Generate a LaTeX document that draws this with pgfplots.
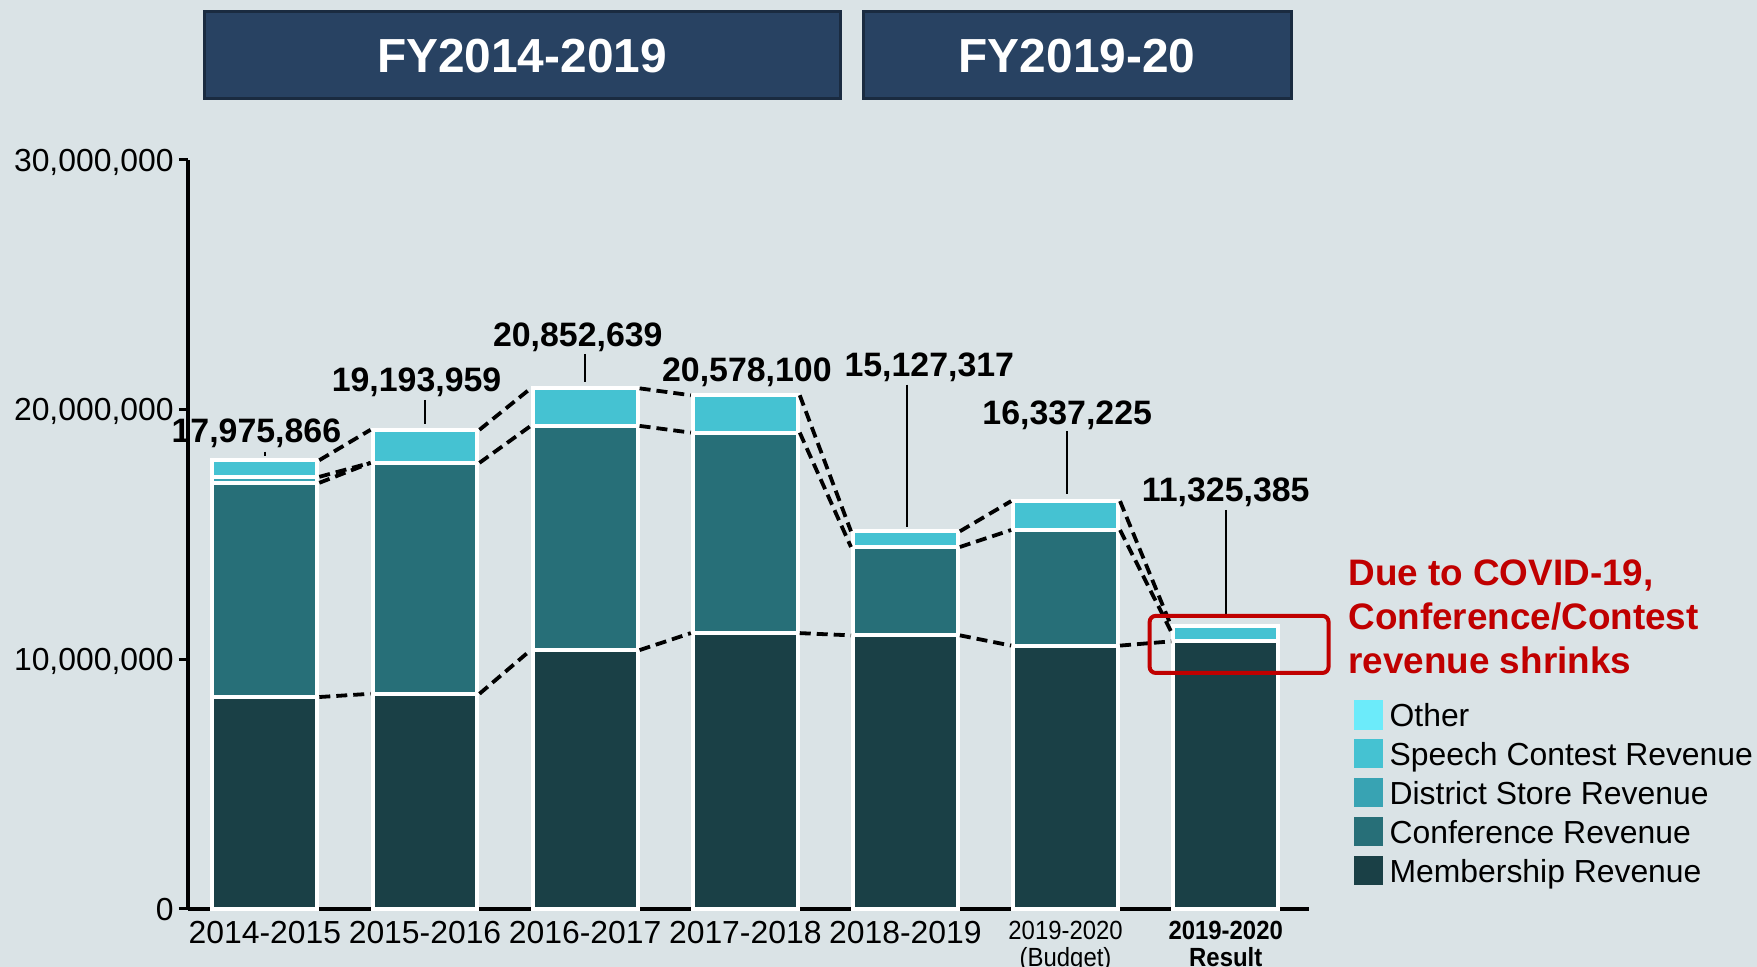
\documentclass[border=0pt]{standalone}
\usepackage{pgfplots}
\pgfplotsset{compat=1.18}
\usepackage{fontspec}
\setmainfont{Liberation Sans}
\definecolor{bg}{HTML}{DAE3E6}
\definecolor{cMem}{HTML}{1A4046}
\definecolor{cConf}{HTML}{276F78}
\definecolor{cDist}{HTML}{38A3B3}
\definecolor{cSpeech}{HTML}{45C2D2}
\definecolor{cOther}{HTML}{6CEBFA}
\definecolor{hdr}{HTML}{284262}
\definecolor{hdrb}{HTML}{1A2B40}
\definecolor{redc}{HTML}{C00000}
\pgfplotstableread{
x Mem Conf Dist Speech Other
0 8490000 8580000 240000 665866 0
1 8620000 9250000 0 1323959 0
2 10370000 8980000 0 1502639 0
3 11050000 8030000 0 1498100 0
4 10960000 3540000 0 627317 0
5 10550000 4630000 0 1157225 0
6 10720000 0 0 605385 0
}\data
\pgfplotsset{
  mybar/.style={fill=#1, draw=white, line width=2bp,
    legend image code/.code={\fill[#1, draw=none] (0bp,-7.1bp) rectangle (14.6bp,7.5bp);}},
  common/.style={at={(94bp,29bp)}, anchor=south west, scale only axis,
    width=560.5bp, height=374.5bp, xmin=-0.48, xmax=6.52, ymin=0, ymax=3e7},
  dline/.style={black, line width=1.9bp, dash pattern=on 5.5bp off 3bp, unbounded coords=jump, mark=none},
  cline/.style={black, line width=0.85bp, mark=none, unbounded coords=jump},
}
\newcommand{\twol}[2]{\raisebox{1.2bp}{\scalebox{1}[1.1]{\fontsize{12}{11.4}\selectfont\begin{tabular}{@{}c@{}}#1\\#2\end{tabular}}}}
\begin{document}
\begin{tikzpicture}
\path[use as bounding box] (0,0) rectangle (878.5bp,483.5bp);
\fill[bg] (0,0) rectangle (878.5bp,483.5bp);
% headers
\draw[fill=hdr, draw=hdrb, line width=1.5bp] (102bp,434bp) rectangle (420bp,477.5bp);
\node[white, font=\bfseries\fontsize{24}{24}\selectfont, inner sep=0pt, text depth=0pt] at (261bp,455.75bp) {FY2014-2019};
\draw[fill=hdr, draw=hdrb, line width=1.5bp] (431.5bp,434bp) rectangle (645.5bp,477.5bp);
\node[white, font=\bfseries\fontsize{24}{24}\selectfont, inner sep=0pt, text depth=0pt] at (538.5bp,455.75bp) {FY2019-20};
\begin{axis}[common,
  ybar stacked, bar width=0.655,
  axis x line=bottom, axis y line=left,
  axis line style={-, line width=1.7bp, black},
  scaled y ticks=false,
  ytick={0,10000000,20000000,30000000},
  yticklabels={0,{10,000,000},{20,000,000},{30,000,000}},
  xtick={0,1,2,3,4,5,6},
  xticklabels={2014-2015,2015-2016,2016-2017,2017-2018,2018-2019,
    {\twol{2019-2020}{(Budget)}},
    {\twol{\bfseries 2019-2020}{\bfseries Result}}},
  xtick style={draw=none},
  ytick style={line width=1.5bp, black},
  major tick length=4.5bp, tick align=outside,
  yticklabel style={font=\fontsize{16}{16}\selectfont, inner sep=0pt, text depth=0pt, xshift=-2.5bp},
  xticklabel style={font=\fontsize{16}{19}\selectfont, anchor=north, inner sep=0pt, yshift=-1.6bp},
  clip=false,
  reverse legend,
  legend style={at={(1.0398,0.2785)}, anchor=north west, draw=none, fill=none,
    inner sep=0pt, outer sep=0pt, font=\fontsize{16}{19}\selectfont,
    row sep=4.8bp, nodes={inner sep=0pt, text depth=0pt},
    /tikz/every odd column/.append style={column sep=3.4bp}},
  legend cell align=left,
]
\addplot[mybar=cMem] table[x=x, y=Mem] {\data};
\addlegendentry{Membership Revenue}
\addplot[mybar=cConf] table[x=x, y=Conf] {\data};
\addlegendentry{Conference Revenue}
\addplot[mybar=cDist] table[x=x, y=Dist] {\data};
\addlegendentry{District Store Revenue}
\addplot[mybar=cSpeech] table[x=x, y=Speech] {\data};
\addlegendentry{Speech Contest Revenue}
\addplot[mybar=cOther] table[x=x, y=Other] {\data};
\addlegendentry{Other}
\end{axis}
\begin{axis}[common, hide axis, clip=false]
% total line
\addplot[dline] coordinates {(0.34,17975866) (0.66,19193959) (0.8,nan)
 (1.34,19193959) (1.66,20852639) (1.8,nan)
 (2.34,20852639) (2.66,20578100) (2.8,nan)
 (3.34,20578100) (3.66,15127317) (3.8,nan)
 (4.34,15127317) (4.66,16337225) (4.8,nan)
 (5.34,16337225) (5.66,11325385)};
% conference line
\addplot[dline] coordinates {(0.34,17070000) (0.66,17870000) (0.8,nan)
 (1.34,17870000) (1.66,19350000) (1.8,nan)
 (2.34,19350000) (2.66,19080000) (2.8,nan)
 (3.34,19080000) (3.66,14500000) (3.8,nan)
 (4.34,14500000) (4.66,15180000) (4.8,nan)
 (5.34,15180000) (5.66,11100000)};
% district line
\addplot[dline] coordinates {(0.34,17310000) (0.66,17870000)};
% membership line
\addplot[dline] coordinates {(0.34,8490000) (0.66,8620000) (0.8,nan)
 (1.34,8620000) (1.66,10370000) (1.8,nan)
 (2.34,10370000) (2.66,11050000) (2.8,nan)
 (3.34,11050000) (3.66,10960000) (3.8,nan)
 (4.34,10960000) (4.66,10550000) (4.8,nan)
 (5.34,10550000) (5.66,10720000)};
% callouts
\addplot[cline] coordinates {(0,18320000) (0,18140000) (0.5,nan)
 (1,20390000) (1,19440000) (1.5,nan)
 (2,22230000) (2,21100000) (2.5,nan)
 (4.01,21000000) (4.01,15310000) (4.5,nan)
 (5.01,19130000) (5.01,16610000) (5.5,nan)
 (6,15990000) (6,11720000)};
\tikzset{vl/.style={font=\bfseries\fontsize{17}{17}\selectfont, inner sep=0pt, text depth=0pt}}
\node[vl] at (axis cs:-0.053,19170000) {17,975,866};
\node[vl] at (axis cs:0.947,21190000) {19,193,959};
\node[vl] at (axis cs:1.954,22990000) {20,852,639};
\node[vl] at (axis cs:3.01,21600000) {20,578,100};
\node[vl] at (axis cs:4.149,21820000) {15,127,317};
\node[vl] at (axis cs:5.01,19890000) {16,337,225};
\node[vl] at (axis cs:6.0,16790000) {11,325,385};
\draw[redc, line width=2bp, rounded corners=3bp] (axis cs:5.525,9455000) rectangle (axis cs:6.642,11740000);
\end{axis}
\tikzset{rt/.style={redc, font=\bfseries\fontsize{18.5}{18.5}\selectfont, inner sep=0pt, text depth=0pt, anchor=west}}
\node[rt] at (674bp,197bp) {Due to COVID-19,};
\node[rt] at (674bp,175.5bp) {Conference/Contest};
\node[rt] at (674bp,153.5bp) {revenue shrinks};
\end{tikzpicture}
\end{document}
